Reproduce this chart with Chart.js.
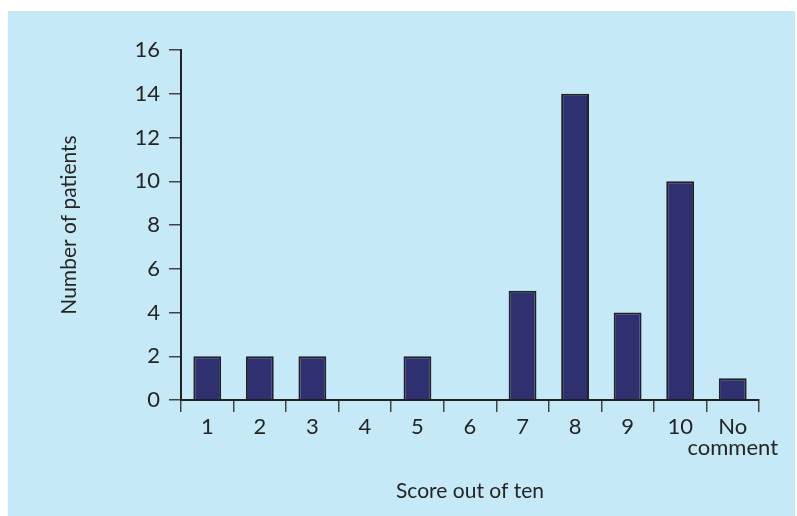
<!DOCTYPE html>
<html>
<head>
<meta charset="utf-8">
<script src="https://cdn.jsdelivr.net/npm/chart.js@4"></script>
<style>
  html, body { margin: 0; padding: 0; background: #ffffff; }
  #wrap { width: 797px; height: 516px; position: relative; }
</style>
</head>
<body>
<div id="wrap"><canvas id="c" width="797" height="516"></canvas></div>
<script>
// Patient scores (out of ten) and how many patients gave each one
const categories = ['1', '2', '3', '4', '5', '6', '7', '8', '9', '10', ['No', 'comment']];
const patientCounts = [2, 2, 2, 0, 2, 0, 5, 14, 4, 10, 1];
const yTickValues = [0, 2, 4, 6, 8, 10, 12, 14, 16];

const TEXT = '#252525';
const FONT = 'Lato, "DejaVu Sans", sans-serif';

// light blue panel behind the plot
const panel = {
  id: 'panel',
  beforeDraw(chart) {
    const ctx = chart.ctx;
    ctx.save();
    ctx.fillStyle = '#c6e9f8';
    ctx.fillRect(8, 11, 787, 505);
    ctx.restore();
  }
};

new Chart(document.getElementById('c'), {
  type: 'bar',
  data: {
    labels: categories,
    datasets: [{
      data: patientCounts,
      backgroundColor: '#2f3070',
      borderColor: '#222222',
      borderWidth: 2,
      barPercentage: 0.53,
      categoryPercentage: 1.0
    }]
  },
  plugins: [panel],
  options: {
    responsive: false,
    animation: false,
    devicePixelRatio: 1,
    layout: { padding: { left: 0, top: 50, right: 38, bottom: 0 } },
    plugins: { legend: { display: false }, tooltip: { enabled: false } },
    scales: {
      x: {
        z: 1,
        border: { display: true, color: '#222222', width: 2 },
        grid: { drawOnChartArea: false, drawTicks: true, tickLength: 12, color: '#444444', lineWidth: 1.5 },
        ticks: { color: TEXT, font: { family: FONT, size: 22, lineHeight: '21px' }, padding: 4, maxRotation: 0, autoSkip: false },
        title: { display: true, text: 'Score out of ten', color: TEXT, font: { family: FONT, size: 21 }, padding: { top: 0, bottom: 12 } },
        afterFit(scale) { scale.height = 116; }
      },
      y: {
        min: 0,
        max: 16,
        afterBuildTicks(scale) { scale.ticks = yTickValues.map(v => ({ value: v })); },
        border: { display: true, color: '#222222', width: 2 },
        grid: { drawOnChartArea: false, drawTicks: true, tickLength: 12, color: '#444444', lineWidth: 1.5 },
        ticks: { color: TEXT, font: { family: FONT, size: 22 }, padding: 9 },
        title: { display: true, text: 'Number of patients', color: TEXT, font: { family: FONT, size: 21 }, padding: { top: 57, bottom: 0 } },
        afterFit(scale) { scale.width = 181; }
      }
    }
  }
});
</script>
</body>
</html>
